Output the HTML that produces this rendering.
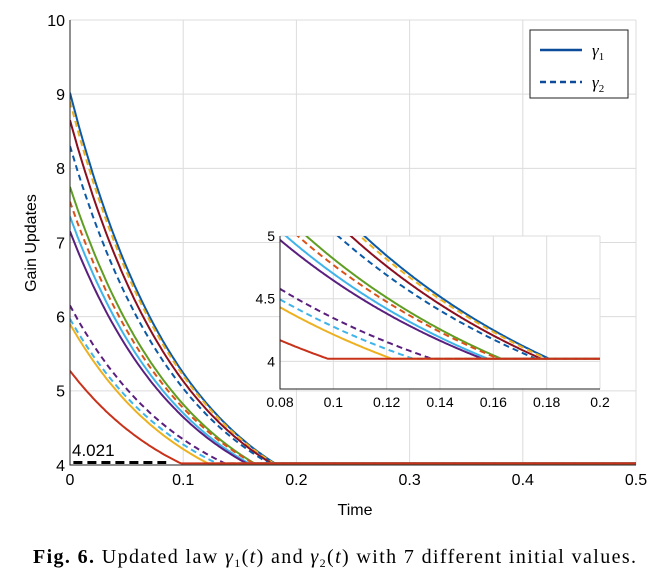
<!DOCTYPE html>
<html><head><meta charset="utf-8"><style>
body{margin:0;background:#fff;width:670px;height:580px;overflow:hidden}
svg text{font-family:"Liberation Sans",sans-serif}
svg text.serif{font-family:"Liberation Serif",serif}
</style></head><body>
<svg id="chart" width="670" height="580" viewBox="0 0 670 580" xmlns="http://www.w3.org/2000/svg">
<g id="main"></g>
<g id="inset"></g>
<text x="355" y="515" font-size="16" text-anchor="middle">Time</text>
<text transform="translate(36,243) rotate(-90)" font-size="16" text-anchor="middle">Gain Updates</text>
<g>
<rect x="530" y="30" width="98" height="68" fill="#fff" stroke="#222" stroke-width="1"/>
<line x1="540" y1="50" x2="582" y2="50" stroke="#0c4a9a" stroke-width="2.5"/>
<text class="serif" x="592" y="56" font-size="17" font-style="italic">γ<tspan font-size="11" dy="4" font-style="normal">1</tspan></text>
<line x1="540" y1="82" x2="582" y2="82" stroke="#0c4a9a" stroke-width="2.5" stroke-dasharray="6,4"/>
<text class="serif" x="592" y="88" font-size="17" font-style="italic">γ<tspan font-size="11" dy="4" font-style="normal">2</tspan></text>
</g>
<text class="serif" x="33" y="563" font-size="20" textLength="603" lengthAdjust="spacing"><tspan font-weight="bold">Fig. 6.</tspan>  Updated law <tspan font-style="italic">γ</tspan><tspan font-size="12" dy="4">1</tspan><tspan dy="-4">(</tspan><tspan font-style="italic">t</tspan>) and <tspan font-style="italic">γ</tspan><tspan font-size="12" dy="4">2</tspan><tspan dy="-4">(</tspan><tspan font-style="italic">t</tspan>) with 7 different initial values.</text>
</svg>
<script>
const initialValues=[9.02,8.9,8.65,8.3,7.75,7.55,7.35,7.15,6.15,5.97,5.9,5.27];
const endTimes=[0.181,0.18,0.178,0.176,0.163,0.162,0.158,0.156,0.137,0.130,0.122,0.098];
const seriesNames=["g1-blue","g2-orange","g1-darkred","g2-blue","g1-green","g2-red","g1-cyan","g1-purple","g2-purple","g2-cyan","g1-orange","g1-red"];
const colors=["#0c5aa6","#EDB120","#8B0f1f","#0c5aa6","#5f9e22","#D95319","#3fb4ea","#5a1f7e","#5a1f7e","#3fb4ea","#EDB120","#c8321a"];
const dashed=[0,1,0,1,0,1,0,0,1,1,0,0];
const floorValue=4.021;
const xTicksMain=[0,0.1,0.2,0.3,0.4,0.5];
const yTicksMain=[4,5,6,7,8,9,10];
const xTicksInset=[0.08,0.1,0.12,0.14,0.16,0.18,0.2];
const yTicksInset=[4,4.5,5];
const NS="http://www.w3.org/2000/svg";
function mk(tag,attrs,parent){const e=document.createElementNS(NS,tag);for(const k in attrs)e.setAttribute(k,attrs[k]);parent.appendChild(e);return e;}
function val(i,t){const k=10,T=endTimes[i];if(t>=T)return floorValue;const a=Math.exp(-k*t),b=Math.exp(-k*T);return floorValue+(initialValues[i]-floorValue)*(a-b)/(1-b);}
function drawAxes(g,box,xd,yd,xt,yt,fs,id){
 const sx=v=>box.l+(v-xd[0])/(xd[1]-xd[0])*(box.r-box.l);
 const sy=v=>box.b-(v-yd[0])/(yd[1]-yd[0])*(box.b-box.t);
 const bg=mk('rect',{x:box.l,y:box.t,width:box.r-box.l,height:box.b-box.t,fill:'#fff'},g);
 
 
 xt.forEach(v=>{const l=mk('line',{x1:sx(v),x2:sx(v),y1:box.t,y2:box.b,stroke:'#dcdcdc','stroke-width':1},g);
  
  
  const tx=mk('text',{x:sx(v),y:box.b+fs+4,'font-size':fs,'text-anchor':'middle'},g);tx.textContent=String(v);
  
  });
 yt.forEach(v=>{const l=mk('line',{x1:box.l,x2:box.r,y1:sy(v),y2:sy(v),stroke:'#dcdcdc','stroke-width':1},g);
  
  
  const tx=mk('text',{x:box.l-5,y:sy(v)+fs*0.36,'font-size':fs,'text-anchor':'end'},g);tx.textContent=String(v);
  
  });
 const cp=mk('clipPath',{id:id+'clip'},g);mk('rect',{x:box.l,y:box.t,width:box.r-box.l,height:box.b-box.t},cp);
 const lg=mk('g',{'clip-path':'url(#'+id+'clip)'},g);
 for(let i=0;i<initialValues.length;i++){
  let d='';const n=300;
  for(let j=0;j<=n;j++){const t=xd[0]+(xd[1]-xd[0])*j/n;d+=(j?'L':'M')+sx(t).toFixed(1)+','+sy(val(i,t)).toFixed(1);}
  const p=mk('path',{d:d,fill:'none',stroke:colors[i],'stroke-width':2,'stroke-dasharray':dashed[i]?'6,4':'none'},lg);
  
  
 }
 const ax=mk('path',{d:`M${box.l},${box.t}V${box.b}H${box.r}`,fill:'none',stroke:'#222','stroke-width':1},g);
 
 
 return {sx,sy};
}
const main=document.getElementById('main');
const m=drawAxes(main,{l:70,r:636,t:20,b:465},[0,0.5],[4,10],xTicksMain,yTicksMain,16,'main');
const fl=mk('line',{x1:m.sx(0.003),x2:m.sx(0.085),y1:m.sy(floorValue)-1,y2:m.sy(floorValue)-1,stroke:'#000','stroke-width':3,'stroke-dasharray':'9,5'},main);


const ft=mk('text',{x:72,y:456,'font-size':17},main);ft.textContent='4.021';


drawAxes(document.getElementById('inset'),{l:280,r:600,t:236,b:389},[0.08,0.2],[3.78,5],xTicksInset,yTicksInset,14,'inset');
</script>
</body></html>
